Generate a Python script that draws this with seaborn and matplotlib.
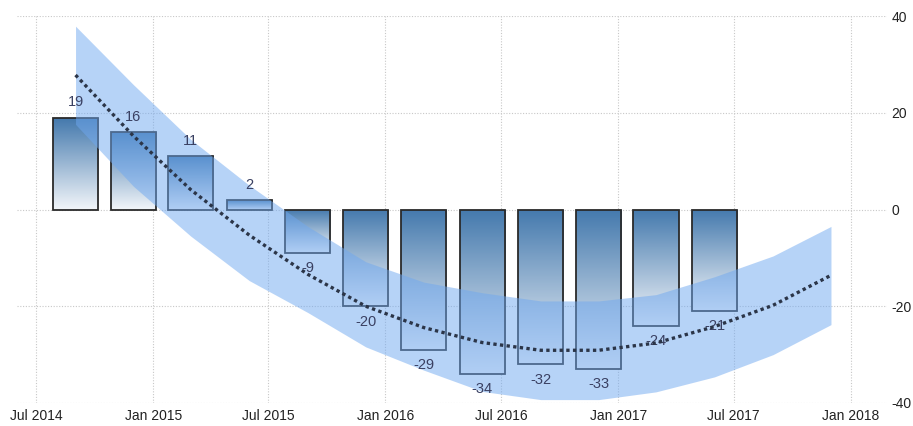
import numpy as np
import pandas as pd
import matplotlib
matplotlib.use("Agg")
import matplotlib.pyplot as plt
import matplotlib.dates as mdates
from matplotlib.colors import to_rgb
import seaborn as sns

# quarterly readings shown as bars
bar_dates = ["2014-09-01", "2014-12-01", "2015-03-01", "2015-06-01",
             "2015-09-01", "2015-12-01", "2016-03-01", "2016-06-01",
             "2016-09-01", "2016-12-01", "2017-03-01", "2017-06-01"]
bar_values = [19, 16, 11, 2, -9, -20, -29, -34, -32, -33, -24, -21]

# trend line + band (extends two quarters ahead)
trend_dates = bar_dates + ["2017-09-01", "2017-12-01"]
trend_mid = [27.8, 15.2, 4.1, -5.3, -13.4, -20.0, -24.4, -27.5,
             -29.1, -29.1, -27.6, -24.2, -19.8, -13.6]
trend_upper = [37.9, 25.8, 14.5, 5.0, -3.5, -10.8, -15.0, -17.2,
               -18.9, -18.9, -17.6, -13.9, -9.6, -3.5]
trend_lower = [17.6, 4.8, -5.5, -14.7, -21.3, -28.4, -33.2, -37.6,
               -39.3, -39.3, -37.7, -34.6, -30.0, -23.8]

xtick_dates = ["2014-07-01", "2015-01-01", "2015-07-01", "2016-01-01",
               "2016-07-01", "2017-01-01", "2017-07-01", "2018-01-01"]
xtick_labels = ["Jul 2014", "Jan 2015", "Jul 2015", "Jan 2016",
                "Jul 2016", "Jan 2017", "Jul 2017", "Jan 2018"]
ytick_values = [-40, -20, 0, 20, 40]

sns.set_style("white")
plt.rcParams["font.family"] = ["Liberation Sans", "DejaVu Sans"]

df_bars = pd.DataFrame({"date": pd.to_datetime(bar_dates), "value": bar_values})
df_trend = pd.DataFrame({"date": pd.to_datetime(trend_dates), "mid": trend_mid,
                         "upper": trend_upper, "lower": trend_lower})

fig = plt.figure(figsize=(9.13, 4.26), dpi=100)
ax = fig.add_axes([0.0186, 0.054, 0.9529, 0.9084])

bx = mdates.date2num(df_bars["date"])
bars = ax.bar(bx, df_bars["value"], width=71, facecolor="none",
              edgecolor="#2a2a2a", linewidth=1.3, zorder=3)

# vertical gradient fill, dark on top fading to near white
top_c = np.array(to_rgb("#4479ad"))
bot_c = np.array(to_rgb("#f3f6fa"))
grad = np.linspace(0, 1, 256)[:, None, None]
grad_img = top_c * (1 - grad) + bot_c * grad
for rect in bars:
    x0 = rect.get_x()
    w = rect.get_width()
    y0 = min(rect.get_y(), rect.get_y() + rect.get_height())
    y1 = max(rect.get_y(), rect.get_y() + rect.get_height())
    im = ax.imshow(grad_img, extent=[x0, x0 + w, y0, y1], origin="upper",
                   aspect="auto", zorder=2, interpolation="bilinear")
    im.set_clip_path(rect)

tx = mdates.date2num(df_trend["date"])
ax.fill_between(tx, df_trend["lower"], df_trend["upper"],
                color="#6fa8f0", alpha=0.5, linewidth=0, zorder=4)
sns.lineplot(x=tx, y=df_trend["mid"], ax=ax, color="#2b3548",
             linewidth=2.4, linestyle=(0, (1, 1.0)), zorder=6)

for x, v in zip(bx, bar_values):
    off = 11 if v >= 0 else -11
    ax.annotate(str(v), (x, v), xytext=(0, off), textcoords="offset points",
                ha="center", va="center", fontsize=10.5, color="#3a4062",
                zorder=5)

ax.set_xlim(mdates.date2num(pd.Timestamp("2014-06-01")),
            mdates.date2num(pd.Timestamp("2018-02-27")))
ax.set_ylim(-40, 40)
ax.set_xticks(mdates.date2num(pd.to_datetime(xtick_dates)))
ax.set_xticklabels(xtick_labels)
ax.set_yticks(ytick_values)
ax.set_yticklabels([str(v) for v in ytick_values])
ax.yaxis.tick_right()
ax.tick_params(axis="both", length=0, labelsize=10, labelcolor="#222222")
ax.tick_params(axis="y", pad=3)
ax.tick_params(axis="x", pad=4)
ax.grid(True, color="#c8c8c8", linestyle=(0, (1, 1.5)), linewidth=0.8, zorder=0)
ax.set_axisbelow(True)
ax.set_xlabel("")
ax.set_ylabel("")
sns.despine(ax=ax, left=True, bottom=True, right=True, top=True)

fig.savefig("out.png", dpi=100)
